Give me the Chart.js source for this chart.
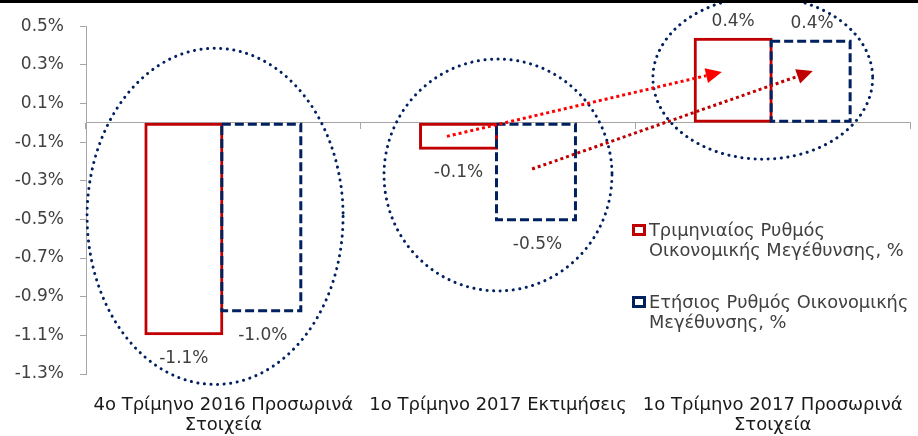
<!DOCTYPE html>
<html lang="el">
<head>
<meta charset="utf-8">
<title>Ρυθμός Οικονομικής Μεγέθυνσης</title>
<script src="https://cdn.jsdelivr.net/npm/chart.js@4.4.1/dist/chart.umd.min.js"></script>
<style>
    html, body { margin: 0; padding: 0; background: #fff; }
    #wrap { position: relative; width: 918px; height: 436px; overflow: hidden; }
    #topline { position: absolute; left: 0; top: 0; width: 918px; height: 3px; background: #000; }
    #legend { position: absolute; left: 632px; top: 220px; font-family: "DejaVu Sans", sans-serif; font-size: 17.8px; line-height: 20px; color: #404040; white-space: nowrap; }
    .legend-item { display: flex; align-items: flex-start; margin-bottom: 32px; }
    .legend-box { width: 8px; height: 6px; border: 3px solid; margin: 4px 3px 0 0; flex: none; }
</style>
</head>
<body>
<div id="wrap">
    <canvas id="chart" width="918" height="436"></canvas>
    <div id="topline"></div>
    <div id="legend"></div>
</div>
<script>
"use strict";

// ---------- Data ----------

const CATEGORIES = [
    ["4ο Τρίμηνο 2016 Προσωρινά", "Στοιχεία"],
    ["1ο Τρίμηνο 2017 Εκτιμήσεις"],
    ["1ο Τρίμηνο 2017 Προσωρινά", "Στοιχεία"],
];
const QUARTERLY = [-1.10, -0.14, 0.44];   // Τριμηνιαίος ρυθμός, %
const ANNUAL = [-0.98, -0.51, 0.43];      // Ετήσιος ρυθμός, %
const SERIES_LABELS = [
    ["Τριμηνιαίος Ρυθμός", "Οικονομικής Μεγέθυνσης, %"],
    ["Ετήσιος Ρυθμός Οικονομικής", "Μεγέθυνσης, %"],
];
const Y_TICKS = [-1.3, -1.1, -0.9, -0.7, -0.5, -0.3, -0.1, 0.1, 0.3, 0.5];

// Decorations in data units (x = category index, y = %)
const ELLIPSES = [
    { cx: -0.03, cy: -0.484, rx: 0.466, ry: 0.87 },
    { cx: 1.0, cy: -0.27, rx: 0.415, ry: 0.6 },
    { cx: 1.964, cy: 0.232, rx: 0.40, ry: 0.42 },
];
const ARROWS = [
    { from: [0.814, -0.07], to: [1.815, 0.263], color: "#ff0000" },
    { from: [1.124, -0.239], to: [2.146, 0.268], color: "#c00000" },
];

const RED = "#c00000";
const NAVY = "#002060";
const AXIS_GREY = "#a6a6a6";
const FONT = "'DejaVu Sans', sans-serif";

// ---------- Plugins ----------

// dashed outline for the annual bars (bars can't do borderDash);
// left edge shares the line with the quarterly bar's right edge
const dashedBars = {
    id: "dashedBars",
    afterDatasetsDraw(chart) {
        const ctx = chart.ctx;
        const meta = chart.getDatasetMeta(1);
        ctx.save();
        ctx.strokeStyle = NAVY;
        ctx.lineWidth = 3;
        ctx.setLineDash([9, 4]);
        for (const bar of meta.data) {
            const { x, y, base, width } = bar.getProps(["x", "y", "base", "width"], true);
            const top = Math.min(y, base), bottom = Math.max(y, base);
            ctx.strokeRect(x - width / 2 - 1.5, top + 1.5, width, bottom - top - 3);
        }
        ctx.restore();
    },
};

const valueLabels = {
    id: "valueLabels",
    afterDatasetsDraw(chart) {
        const ctx = chart.ctx;
        ctx.save();
        ctx.font = `17px ${FONT}`;
        ctx.fillStyle = "#404040";
        ctx.textAlign = "center";
        ctx.textBaseline = "middle";
        chart.data.datasets.forEach((ds, di) => {
            chart.getDatasetMeta(di).data.forEach((bar, i) => {
                const v = ds.data[i];
                const { x, y } = bar.getProps(["x", "y"], true);
                const ty = v < 0 ? y + 23 : y - 16;
                ctx.fillText(v.toFixed(1) + "%", x, ty);
            });
        });
        ctx.restore();
    },
};

const decorations = {
    id: "decorations",
    afterDraw(chart) {
        const { ctx, scales: { x, y } } = chart;
        const catW = x.getPixelForValue(1) - x.getPixelForValue(0);
        const pctH = y.getPixelForValue(0) - y.getPixelForValue(1);
        ctx.save();

        // dotted ellipses
        ctx.strokeStyle = NAVY;
        ctx.lineWidth = 3;
        ctx.lineCap = "round";
        ctx.setLineDash([0.1, 6.5]);
        for (const e of ELLIPSES) {
            ctx.beginPath();
            ctx.ellipse(x.getPixelForValue(e.cx), y.getPixelForValue(e.cy), e.rx * catW, e.ry * pctH, 0, 0, Math.PI * 2);
            ctx.stroke();
        }

        // dotted arrows
        ctx.lineCap = "butt";
        for (const a of ARROWS) {
            const x0 = x.getPixelForValue(a.from[0]), y0 = y.getPixelForValue(a.from[1]);
            const x1 = x.getPixelForValue(a.to[0]), y1 = y.getPixelForValue(a.to[1]);
            const ang = Math.atan2(y1 - y0, x1 - x0);
            const headLen = 16, headW = 7.5;
            const bx = x1 - headLen * Math.cos(ang), by = y1 - headLen * Math.sin(ang);
            ctx.strokeStyle = a.color;
            ctx.fillStyle = a.color;
            ctx.setLineDash([3, 3]);
            ctx.beginPath();
            ctx.moveTo(x0, y0);
            ctx.lineTo(bx, by);
            ctx.stroke();
            ctx.setLineDash([]);
            ctx.beginPath();
            ctx.moveTo(x1, y1);
            ctx.lineTo(bx + headW * Math.sin(ang), by - headW * Math.cos(ang));
            ctx.lineTo(bx - headW * Math.sin(ang), by + headW * Math.cos(ang));
            ctx.closePath();
            ctx.fill();
        }
        ctx.restore();
    },
};

// ---------- Chart ----------

const chart = new Chart(document.getElementById("chart"), {
    type: "bar",
    data: {
        labels: CATEGORIES,
        datasets: [
            {
                label: SERIES_LABELS[0].join(" "),
                data: QUARTERLY,
                backgroundColor: "rgba(255,255,255,0)",
                borderColor: RED,
                borderWidth: 3,
                borderSkipped: false,
            },
            {
                label: SERIES_LABELS[1].join(" "),
                data: ANNUAL,
                backgroundColor: "rgba(255,255,255,0)",
                borderWidth: 0,
            },
        ],
    },
    options: {
        responsive: false,
        animation: false,
        devicePixelRatio: 1,
        categoryPercentage: 0.575,
        barPercentage: 1,
        layout: { padding: { top: 23, right: 8, left: 0, bottom: 0 } },
        plugins: {
            legend: { display: false },
            tooltip: { enabled: false },
        },
        scales: {
            x: {
                position: "bottom",
                grid: { display: false, drawTicks: false },
                border: { display: false },
                ticks: {
                    color: "#1a1a1a",
                    font: { family: FONT, size: 18, lineHeight: 1.11 },
                    padding: 21,
                    maxRotation: 0,
                    autoSkip: false,
                },
                afterFit: (scale) => {
                    scale.height = 62;
                    // labels fit inside the window; don't let them squeeze the plot
                    scale.paddingLeft = 0;
                    scale.paddingRight = 0;
                },
            },
            xZero: {
                type: "category",
                labels: CATEGORIES,
                position: { y: 0 },
                offset: true,
                grid: { offset: true, drawOnChartArea: false, tickLength: 6, color: AXIS_GREY },
                border: { color: AXIS_GREY, width: 1 },
                ticks: { display: false },
            },
            y: {
                min: -1.3,
                max: 0.5,
                grid: { drawOnChartArea: false, tickLength: 6, color: AXIS_GREY },
                border: { color: AXIS_GREY, width: 1 },
                afterBuildTicks: (scale) => { scale.ticks = Y_TICKS.map((v) => ({ value: v })); },
                ticks: {
                    color: "#404040",
                    font: { family: FONT, size: 17 },
                    padding: 16,
                    callback: (v) => Number(v).toFixed(1) + "%",
                },
                afterFit: (scale) => { scale.width = 86; },
            },
        },
    },
    plugins: [dashedBars, valueLabels, decorations],
});

// ---------- Legend ----------

const LEGEND_COLORS = [RED, NAVY];
document.getElementById("legend").innerHTML = SERIES_LABELS.map((lines, i) => `
    <div class="legend-item">
        <span class="legend-box" style="border-color:${LEGEND_COLORS[i]}"></span>
        <span>${lines.join("<br>")}</span>
    </div>`).join("");
</script>
</body>
</html>
